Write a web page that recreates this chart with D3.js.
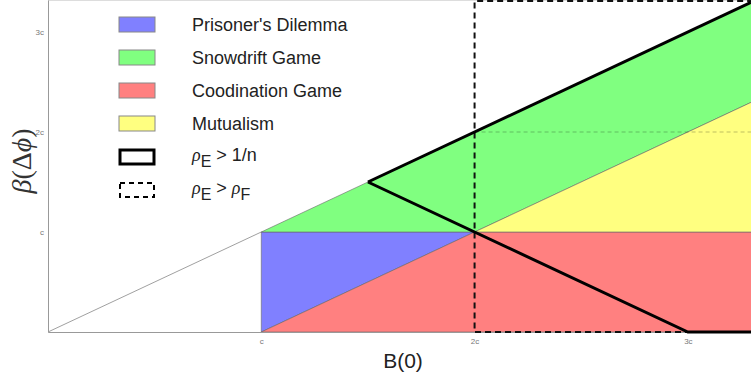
<!DOCTYPE html>
<html lang="en">
<head>
    <meta charset="utf-8">
    <script type="text/javascript" src="https://cdn.jsdelivr.net/npm/d3@7"></script>
    <style>
        body { margin: 0; background: #fff; }
    </style>
</head>
<body>
    <script type="text/javascript">
        let w = 751;
        let h = 383;

        // axis values, in units of c
        let xMax = 3.296;
        let yMax = 3.32;
        let tickValues = [1, 2, 3];
        let tickLabels = ["c", "2c", "3c"];

        // game regions (B(0), beta) in units of c
        let categories = ["Prisoner's Dilemma", "Snowdrift Game", "Coodination Game", "Mutualism"];
        let pdRegion = [[1, 0], [1, 1], [2, 1]];
        let sdRegion = [[1, 1], [4, 4], [4, 3], [2, 1]];
        let coRegion = [[1, 0], [2, 1], [4, 1], [4, 0]];
        let muRegion = [[2, 1], [4, 3], [4, 1]];
        let regionColors = ["#8080ff", "#80ff80", "#ff8080", "#ffff80"];

        // boundaries
        let diagonal = [[0, 0], [1, 1]];
        let rhoSolid1 = [[1.5, 1.5], [xMax, xMax]];
        let rhoSolid2 = [[1.5, 1.5], [3, 0], [xMax, 0]];
        let rhoDashed = [[xMax, 0], [2, 0], [2, yMax - 0.01], [xMax, yMax - 0.01]];
        let gridLine = [[2, 2], [xMax, 2]];

        let x = d3.scaleLinear().domain([0, xMax]).range([48, 751]);
        let y = d3.scaleLinear().domain([0, yMax]).range([332, 0]);

        let svg = d3.select("body").append("svg")
            .attr("width", w)
            .attr("height", h);

        svg.append("clipPath").attr("id", "plot")
            .append("rect")
            .attr("x", 48).attr("y", 0)
            .attr("width", 751 - 48).attr("height", 332);

        let line = d3.line().x(d => x(d[0])).y(d => y(d[1]));

        let plot = svg.append("g").attr("clip-path", "url(#plot)");

        let regions = [pdRegion, sdRegion, coRegion, muRegion];
        plot.selectAll("path.region")
            .data(regions)
            .join("path")
            .attr("class", "region")
            .attr("d", d => line(d) + "Z")
            .attr("fill", (d, i) => regionColors[i])
            .attr("stroke", "#666")
            .attr("stroke-width", 0.6);

        // frame
        svg.append("line")
            .attr("x1", 48).attr("x2", 751)
            .attr("y1", 0.5).attr("y2", 0.5)
            .attr("stroke", "#ddd");

        svg.append("path")
            .attr("d", line(diagonal))
            .attr("fill", "none")
            .attr("stroke", "#888")
            .attr("stroke-width", 0.8);

        svg.append("path")
            .attr("d", line(gridLine))
            .attr("fill", "none")
            .attr("stroke", "rgba(0,0,0,0.25)")
            .attr("stroke-dasharray", "4,3")
            .attr("stroke-width", 1);

        // axes
        let yAxis = d3.axisLeft(y).tickValues(tickValues)
            .tickFormat((d, i) => tickLabels[i]).tickSize(0).tickPadding(4);
        let xAxis = d3.axisBottom(x).tickValues(tickValues)
            .tickFormat((d, i) => tickLabels[i]).tickSize(0).tickPadding(6);

        let gy = svg.append("g").attr("transform", "translate(48,0)").call(yAxis);
        let gx = svg.append("g").attr("transform", "translate(0,332)").call(xAxis);
        [gx, gy].forEach(g => {
            g.select(".domain").attr("stroke", "#999");
            g.selectAll("text")
                .attr("fill", "#777")
                .style("font-family", "Liberation Sans, Arial, sans-serif")
                .style("font-size", "8px");
        });

        // rho lines
        svg.append("path")
            .attr("d", line(rhoDashed))
            .attr("fill", "none")
            .attr("stroke", "#111")
            .attr("stroke-width", 2)
            .attr("stroke-dasharray", "6,4");

        [rhoSolid1, rhoSolid2].forEach(d => {
            svg.append("path")
                .attr("d", line(d))
                .attr("fill", "none")
                .attr("stroke", "#000")
                .attr("stroke-width", 3)
                .attr("stroke-linejoin", "miter");
        });

        // axis titles
        svg.append("text")
            .attr("x", 403).attr("y", 368)
            .attr("text-anchor", "middle")
            .attr("fill", "#222")
            .style("font-family", "Liberation Sans, Arial, sans-serif")
            .style("font-size", "21px")
            .text("B(0)");

        let ylab = svg.append("text")
            .attr("transform", "translate(31,161) rotate(-90)")
            .attr("text-anchor", "middle")
            .attr("fill", "#333")
            .style("font-family", "Liberation Serif, Times New Roman, serif")
            .style("font-size", "28px");
        ylab.append("tspan").style("font-style", "italic").text("β");
        ylab.append("tspan").text("(Δ");
        ylab.append("tspan").style("font-style", "italic").text("ϕ");
        ylab.append("tspan").text(")");

        // legend
        let legend = svg.append("g");
        let rowY = i => 17 + i * 33;
        let fontSans = "Liberation Sans, Arial, sans-serif";

        legend.selectAll("rect.sw")
            .data(categories)
            .join("rect")
            .attr("class", "sw")
            .attr("x", 119).attr("y", (d, i) => rowY(i))
            .attr("width", 36).attr("height", 15)
            .attr("fill", (d, i) => regionColors[i])
            .attr("stroke", "#888")
            .attr("stroke-width", 1);

        legend.selectAll("text.lab")
            .data(categories)
            .join("text")
            .attr("class", "lab")
            .attr("x", 192).attr("y", (d, i) => rowY(i) + 14)
            .attr("fill", "#222")
            .style("font-family", fontSans)
            .style("font-size", "18px")
            .text(d => d);

        legend.append("rect")
            .attr("x", 120).attr("y", rowY(4) + 1)
            .attr("width", 34).attr("height", 14)
            .attr("fill", "#fff")
            .attr("stroke", "#000")
            .attr("stroke-width", 3);

        legend.append("rect")
            .attr("x", 120).attr("y", rowY(5) + 1)
            .attr("width", 34).attr("height", 14)
            .attr("fill", "#fff")
            .attr("stroke", "#000")
            .attr("stroke-width", 2)
            .attr("stroke-dasharray", "5,4");

        function rhoLabel(yy, rest) {
            let t = legend.append("text")
                .attr("x", 192).attr("y", yy)
                .attr("fill", "#222")
                .style("font-family", fontSans)
                .style("font-size", "18px");
            t.append("tspan").style("font-family", "Liberation Serif, serif").style("font-style", "italic").text("ρ");
            t.append("tspan").attr("dy", 6).style("font-size", "16px").text("E");
            t.append("tspan").attr("dy", -6).text(" > ");
            if (rest === "F") {
                t.append("tspan").style("font-family", "Liberation Serif, serif").style("font-style", "italic").text("ρ");
                t.append("tspan").attr("dy", 6).style("font-size", "16px").text("F");
            } else {
                t.append("tspan").text(rest);
            }
        }
        rhoLabel(rowY(4) + 12, "1/n");
        rhoLabel(rowY(5) + 12, "F");
    </script>
</body>
</html>
